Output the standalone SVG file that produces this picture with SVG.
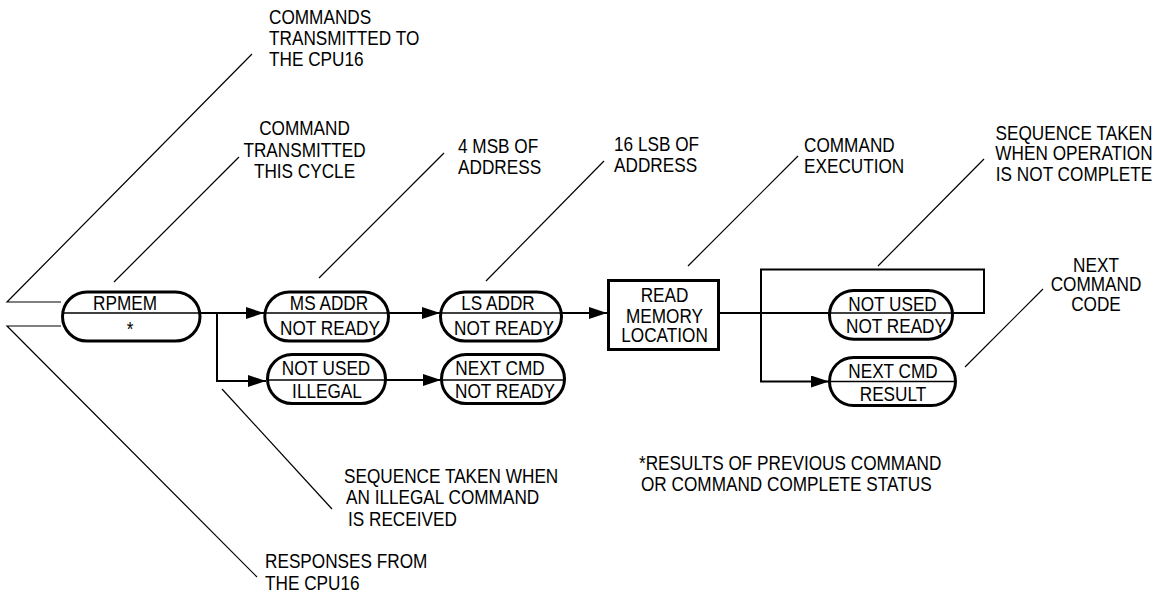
<svg xmlns="http://www.w3.org/2000/svg" width="1159" height="594" viewBox="0 0 1159 594">
<style>
text{font-family:"Liberation Sans",Arial,sans-serif;font-size:20px;fill:#000}
.m{text-anchor:middle}
.pill{fill:#fff;stroke:#000;stroke-width:3}
.div{stroke:#000;stroke-width:1.7;fill:none}
.conn{stroke:#000;stroke-width:2;fill:none}
.lead{stroke:#000;stroke-width:1.2;fill:none}
</style>
<defs>
<marker id="arr" markerUnits="userSpaceOnUse" markerWidth="18" markerHeight="12" refX="18" refY="6" orient="auto">
<path d="M0,0 L18,6 L0,12 Z" fill="#000"/>
</marker>
</defs>
<g id="connectors">
<path class="conn" d="M200,313 H264" marker-end="url(#arr)"/>
<path class="conn" d="M389,313 H440" marker-end="url(#arr)"/>
<path class="conn" d="M562,313 H607" marker-end="url(#arr)"/>
<path class="conn" d="M217,313 V381 H266" marker-end="url(#arr)"/>
<path class="conn" d="M386,380 H441" marker-end="url(#arr)"/>
<path class="conn" d="M719,313 H984 V269.5 H761 V381.5 H829" marker-end="url(#arr)"/>
</g>
<g id="leaders">
<path class="lead" d="M61,302 H7 L252,54"/>
<path class="lead" d="M61,326 H7 L257,577"/>
<path class="lead" d="M114,282 L239,157"/>
<path class="lead" d="M319,278 L444,153"/>
<path class="lead" d="M486,281 L604,161"/>
<path class="lead" d="M688,266 L798,156"/>
<path class="lead" d="M878,266 L984,159"/>
<path class="lead" d="M965,367 L1043,289"/>
<path class="lead" d="M222,389 L332,509"/>
</g>
<g id="n-rpmem">
<rect class="pill" x="62.5" y="292" width="137.5" height="49" rx="24.5"/>
<line class="div" x1="64" y1="313" x2="200" y2="313"/>
<text class="m" transform="translate(125,310) scale(0.86,1)">RPMEM</text>
<text class="m" transform="translate(130,336) scale(0.86,1)">*</text>
</g>
<g id="n-msaddr">
<rect class="pill" x="264.8" y="292" width="123.7" height="49" rx="24.5"/>
<line class="div" x1="265" y1="313" x2="389" y2="313"/>
<text class="m" transform="translate(329,309.5) scale(0.86,1)">MS ADDR</text>
<text class="m" transform="translate(330,334.5) scale(0.86,1)">NOT READY</text>
</g>
<g id="n-lsaddr">
<rect class="pill" x="440.5" y="292" width="121" height="49" rx="24.5"/>
<line class="div" x1="441" y1="313" x2="562" y2="313"/>
<text class="m" transform="translate(498,309.5) scale(0.86,1)">LS ADDR</text>
<text class="m" transform="translate(504,334.5) scale(0.86,1)">NOT READY</text>
</g>
<g id="n-illegal">
<rect class="pill" x="267.5" y="354.5" width="118" height="49" rx="24.5"/>
<line class="div" x1="268" y1="380" x2="386" y2="380"/>
<text class="m" transform="translate(326,375) scale(0.86,1)">NOT USED</text>
<text class="m" transform="translate(327,398) scale(0.86,1)">ILLEGAL</text>
</g>
<g id="n-nextcmd1">
<rect class="pill" x="441.5" y="354.5" width="123" height="49" rx="24.5"/>
<line class="div" x1="442" y1="380" x2="565" y2="380"/>
<text class="m" transform="translate(500,375) scale(0.86,1)">NEXT CMD</text>
<text class="m" transform="translate(505,398) scale(0.86,1)">NOT READY</text>
</g>
<g id="n-read">
<rect x="608.5" y="280.5" width="110" height="69" fill="#fff" stroke="#000" stroke-width="3"/>
<text class="m" transform="translate(664.5,301.5) scale(0.86,1)">READ</text>
<text class="m" transform="translate(664.5,322.5) scale(0.86,1)">MEMORY</text>
<text class="m" transform="translate(664.5,342) scale(0.86,1)">LOCATION</text>
</g>
<g id="n-notused2">
<rect class="pill" x="829.5" y="290.5" width="123" height="48.7" rx="24.3"/>
<line class="div" x1="830" y1="313" x2="984" y2="313"/>
<text class="m" transform="translate(892.5,311) scale(0.86,1)">NOT USED</text>
<text class="m" transform="translate(896,333.3) scale(0.86,1)">NOT READY</text>
</g>
<g id="n-result">
<rect class="pill" x="829.5" y="357.5" width="126" height="48" rx="24"/>
<line class="div" x1="830" y1="381.5" x2="956" y2="381.5"/>
<text class="m" transform="translate(893,377.7) scale(0.86,1)">NEXT CMD</text>
<text class="m" transform="translate(893,400.7) scale(0.86,1)">RESULT</text>
</g>
<g id="labels">
<text transform="translate(269,24) scale(0.86,1)"><tspan x="0">COMMANDS</tspan><tspan x="0" dy="21.4">TRANSMITTED TO</tspan><tspan x="0" dy="21">THE CPU16</tspan></text>
<text class="m" transform="translate(304.5,135) scale(0.86,1)"><tspan x="0">COMMAND</tspan><tspan x="0" dy="21.6">TRANSMITTED</tspan><tspan x="0" dy="21.6">THIS CYCLE</tspan></text>
<text transform="translate(458,153) scale(0.86,1)"><tspan x="0">4 MSB OF</tspan><tspan x="0" dy="21">ADDRESS</tspan></text>
<text transform="translate(614,151) scale(0.86,1)"><tspan x="0">16 LSB OF</tspan><tspan x="0" dy="21">ADDRESS</tspan></text>
<text transform="translate(804,152) scale(0.86,1)"><tspan x="0">COMMAND</tspan><tspan x="0" dy="21">EXECUTION</tspan></text>
<text class="m" transform="translate(1074,139.5) scale(0.86,1)"><tspan x="0">SEQUENCE TAKEN</tspan><tspan x="0" dy="21">WHEN OPERATION</tspan><tspan x="0" dy="21">IS NOT COMPLETE</tspan></text>
<text class="m" transform="translate(1096,271.5) scale(0.86,1)"><tspan x="0">NEXT</tspan><tspan x="0" dy="19.6">COMMAND</tspan><tspan x="0" dy="19.6">CODE</tspan></text>
<text transform="translate(344,483.3) scale(0.86,1)"><tspan x="0">SEQUENCE TAKEN WHEN</tspan><tspan x="2.3" dy="20.9">AN ILLEGAL COMMAND</tspan><tspan x="4.6" dy="21.4">IS RECEIVED</tspan></text>
<text transform="translate(265,568) scale(0.86,1)"><tspan x="0">RESPONSES FROM</tspan><tspan x="0" dy="22">THE CPU16</tspan></text>
<text transform="translate(639,469.5) scale(0.86,1)"><tspan x="0">*RESULTS OF PREVIOUS COMMAND</tspan><tspan x="2.3" dy="21.5">OR COMMAND COMPLETE STATUS</tspan></text>
</g>
</svg>
